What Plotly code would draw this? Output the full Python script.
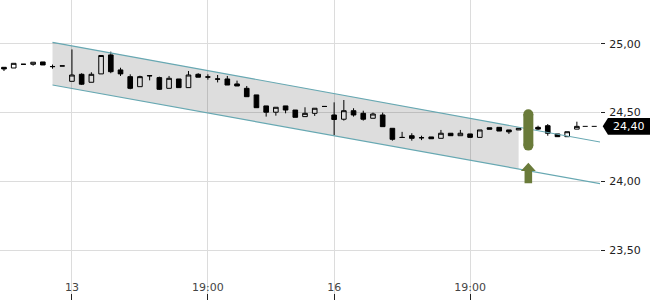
import plotly.graph_objects as go
import numpy as np

# ---- candle data (index = candle slot) ----
opens = [24.830, 24.825, 24.852, 24.852, 24.869, 24.836, 24.840,
         24.728, 24.779, 24.721, 24.782, 24.920, 24.811, 24.762, 24.689,
         24.770, 24.755, 24.677, 24.745, 24.682, 24.779, 24.760, 24.745,
         24.745, 24.709, 24.677, 24.629, 24.549, 24.503, 24.549, 24.519,
         24.471, 24.495, 24.545, 24.483, 24.452, 24.514, 24.495, 24.459,
         24.483, 24.386, 24.320, 24.332, 24.318, 24.323, 24.313, 24.350,
         24.332, 24.345, 24.320, 24.390, 24.393, 24.374, 24.374, 24.386,
         24.393, 24.405, 24.345, 24.325, 24.380]
highs = [24.830, 24.859, 24.852, 24.867, 24.869, 24.850, 24.840,
         24.960, 24.787, 24.794, 24.916, 24.944, 24.827, 24.779, 24.769,
         24.772, 24.762, 24.767, 24.745, 24.803, 24.787, 24.779, 24.774,
         24.767, 24.733, 24.694, 24.629, 24.549, 24.539, 24.549, 24.519,
         24.539, 24.532, 24.545, 24.575, 24.592, 24.532, 24.514, 24.500,
         24.500, 24.386, 24.360, 24.350, 24.332, 24.323, 24.374, 24.350,
         24.374, 24.345, 24.374, 24.390, 24.393, 24.374, 24.386, 24.386,
         24.405, 24.417, 24.345, 24.361, 24.434]
lows = [24.803, 24.825, 24.852, 24.842, 24.847, 24.820, 24.840,
        24.728, 24.701, 24.721, 24.782, 24.787, 24.767, 24.670, 24.689,
        24.735, 24.665, 24.677, 24.682, 24.682, 24.758, 24.740, 24.720,
        24.701, 24.694, 24.616, 24.536, 24.471, 24.478, 24.495, 24.466,
        24.471, 24.476, 24.545, 24.337, 24.442, 24.471, 24.442, 24.459,
        24.398, 24.296, 24.319, 24.296, 24.300, 24.310, 24.313, 24.332,
        24.332, 24.320, 24.320, 24.379, 24.366, 24.345, 24.374, 24.386,
        24.374, 24.332, 24.325, 24.325, 24.380]
closes = [24.818, 24.859, 24.852, 24.867, 24.847, 24.835, 24.840,
          24.774, 24.707, 24.779, 24.916, 24.798, 24.782, 24.677, 24.762,
          24.768, 24.670, 24.750, 24.682, 24.774, 24.758, 24.759, 24.744,
          24.701, 24.694, 24.616, 24.536, 24.503, 24.539, 24.519, 24.466,
          24.495, 24.532, 24.545, 24.450, 24.514, 24.483, 24.452, 24.490,
          24.398, 24.306, 24.319, 24.313, 24.317, 24.310, 24.350, 24.332,
          24.350, 24.320, 24.374, 24.379, 24.366, 24.360, 24.386, 24.386,
          24.380, 24.350, 24.325, 24.361, 24.400]
x_idx = list(range(len(opens)))

# ---- axis labels ----
x_tick_idx = [7, 21, 34, 48]
x_tick_text = ["13", "19:00", "16", "19:00"]
y_tick_vals = [23.5, 24.0, 24.5, 25.0]

# ---- trend channel ----
channel_x = [5, 61.4]
channel_upper = [25.012, 24.286]
channel_lower = [24.701, 23.983]
channel_fill_end = 53

# ---- signal marker ----
signal_x = 54
signal_bar = [24.260, 24.488]
arrow_tip, arrow_base, arrow_bottom = 24.136, 24.075, 23.986

x_range = [-0.41, 61.38]
y_range = [23.136, 25.320]

GREEN = "#6a7b3a"
TEAL = "#67a8b2"
FONT = "DejaVu Sans"

fig = go.Figure()

# channel fill
fx = [channel_x[0], channel_fill_end]
fu = list(np.interp(fx, channel_x, channel_upper))
fl = list(np.interp(fx, channel_x, channel_lower))
fig.add_trace(go.Scatter(x=fx + fx[::-1], y=fu + fl[::-1], fill="toself",
                         fillcolor="rgba(0,0,0,0.135)", line=dict(width=0),
                         mode="lines", hoverinfo="skip", showlegend=False))
# channel lines
for ys in (channel_upper, channel_lower):
    fig.add_trace(go.Scatter(x=channel_x, y=ys, mode="lines",
                             line=dict(color=TEAL, width=1.2),
                             hoverinfo="skip", showlegend=False))

# candles
fig.add_trace(go.Candlestick(
    x=x_idx, open=opens, high=highs, low=lows, close=closes,
    increasing=dict(line=dict(color="black", width=1), fillcolor="white"),
    decreasing=dict(line=dict(color="black", width=1), fillcolor="black"),
    whiskerwidth=0, showlegend=False, hoverinfo="skip"))

# last price dashed line
last = closes[-1]
fig.add_trace(go.Scatter(x=[x_idx[-1] + 0.6, x_range[1]], y=[last, last], mode="lines",
                         line=dict(color="black", width=1, dash="5px,4px"),
                         hoverinfo="skip", showlegend=False))

# signal pill
fig.add_trace(go.Scatter(x=[signal_x, signal_x], y=signal_bar, mode="lines+markers",
                         line=dict(color=GREEN, width=10),
                         marker=dict(color=GREEN, size=10, line=dict(width=0)),
                         hoverinfo="skip", showlegend=False))

# arrow
hw, sw = 0.77, 0.39
fig.add_shape(type="path", xref="x", yref="y", fillcolor=GREEN, line=dict(width=0),
              path=(f"M {signal_x},{arrow_tip} L {signal_x + hw},{arrow_base} "
                    f"L {signal_x + sw},{arrow_base} L {signal_x + sw},{arrow_bottom} "
                    f"L {signal_x - sw},{arrow_bottom} L {signal_x - sw},{arrow_base} "
                    f"L {signal_x - hw},{arrow_base} Z"))

# last price tag
h = 0.0605
fig.add_shape(type="path", xref="paper", yref="y", fillcolor="black", line=dict(width=0),
              path=(f"M 1.0045,{last} L 1.0133,{last + h} L 1.0833,{last + h} "
                    f"L 1.0833,{last - h} L 1.0133,{last - h} Z"))
fig.add_annotation(xref="paper", yref="y", x=1.048, y=last, xanchor="center",
                   yanchor="middle", showarrow=False,
                   text=f"{last:.2f}".replace(".", ","),
                   font=dict(family=FONT, size=11, color="white"))

fig.update_layout(
    width=650, height=300, margin=dict(l=0, r=50, t=0, b=0),
    paper_bgcolor="white", plot_bgcolor="white",
    separators=",.", boxgap=0.32, hovermode=False, showlegend=False,
    font=dict(family=FONT, size=11, color="#222"),
    xaxis=dict(range=x_range, tickvals=x_tick_idx, ticktext=x_tick_text,
               showgrid=True, gridcolor="#dcdcdc", gridwidth=1,
               ticks="inside", ticklen=6, tickcolor="#222",
               ticklabelposition="inside", zeroline=False, showline=False,
               rangeslider=dict(visible=False), fixedrange=True),
    yaxis=dict(range=y_range, side="right", tickvals=y_tick_vals, tickformat=".2f",
               showgrid=True, gridcolor="#dcdcdc", gridwidth=1,
               ticks="outside", ticklen=4, tickcolor="#222",
               ticklabelstandoff=2,
               zeroline=False, showline=False, fixedrange=True),
)

fig.write_html("out.html")
